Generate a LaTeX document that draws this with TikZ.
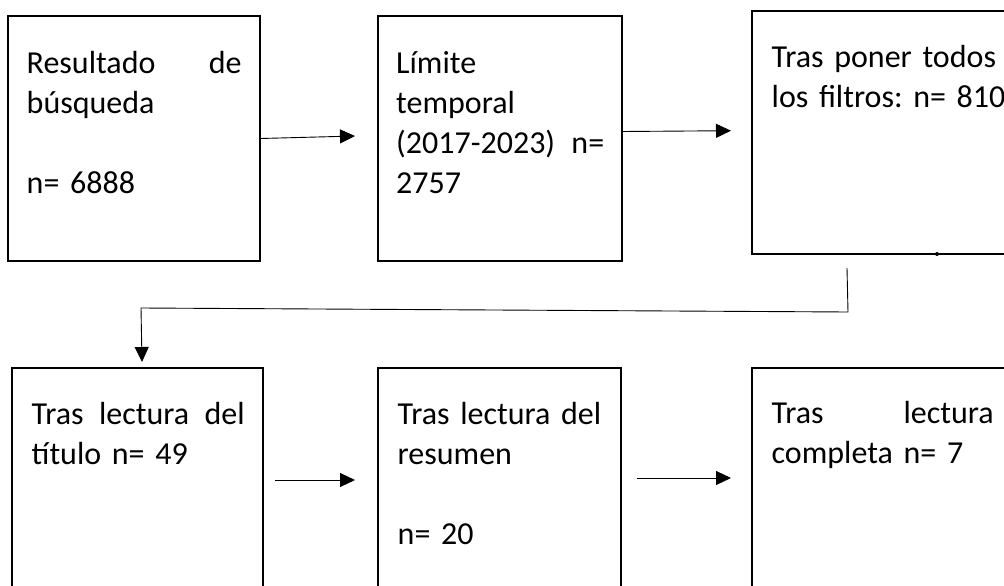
\documentclass[tikz,border=0pt]{standalone}
\usepackage{fontspec}
\setmainfont{Carlito}
\usetikzlibrary{arrows.meta}
\setlength{\parindent}{0pt}
\frenchspacing
\begin{document}
\begin{tikzpicture}[x=1pt,y=-1pt,
  box/.style={draw=black, line width=1.6pt, rectangle, inner sep=0pt},
  txt/.style={anchor=north west, inner sep=0pt, align=left, font=\fontsize{32}{40}\selectfont\frenchspacing},
  conn/.style={draw=black, line width=0.9pt},
  arr/.style={conn, -{Triangle[length=15pt,width=14pt]}}]
\clip (0,0) rectangle (1004,586);
\fill[white] (0,0) rectangle (1004,586);
% boxes
\node[box, minimum width=252pt, minimum height=245pt] (b1) at (134,138.5) {};
\node[box, minimum width=244pt, minimum height=245pt] (b2) at (500,138.5) {};
\node[box, minimum width=260pt, minimum height=243pt] (b3) at (882,132.5) {};
\node[box, minimum width=251pt, minimum height=242pt] (b4) at (137.5,489) {};
\node[box, minimum width=243pt, minimum height=242pt] (b5) at (499.5,489) {};
\node[box, minimum width=260pt, minimum height=242pt] (b6) at (882,489) {};
% texts
\node[txt, text width=215pt] (t1) at (26.5,45) {\strut Resultado\hfill de\\ búsqueda\\[40pt] n= 6888};
\node[txt, text width=208pt] (t2) at (396,45) {\strut Límite\\ temporal\\ (2017-2023)\hfill n=\\ 2757};
\node[txt, text width=240pt] (t3) at (771.5,39) {\strut Tras poner todos\\ los filtros: n= 810};
\node[txt, text width=213pt] (t4) at (31.5,396) {\strut Tras\hfill lectura\hfill del\\ título n= 49};
\node[txt, text width=215pt] (t5) at (397.5,396) {\strut Tras lectura del\\ resumen\\[40pt] n= 20};
\node[txt, text width=222pt] (t6) at (771.5,395) {\strut Tras\hfill lectura\\ completa n= 7};
% small dot on box 3
\fill (937,254) circle (2pt);
% connector coordinates
\coordinate (a1e) at (355,136);
\coordinate (a2e) at (731,130.7);
\coordinate (k1) at (847,268);
\coordinate (k2) at (848,312);
\coordinate (k3) at (141,308);
\coordinate (k4) at (142,362);
\coordinate (a3s) at (275,480);
\coordinate (a3e) at (355,480);
\coordinate (a4s) at (637,478);
\coordinate (a4e) at (731,478);
% connectors
\draw[arr] (b1.east) -- (a1e);
\draw[arr] ([yshift=7pt]b2.east) -- (a2e);
\draw[arr] (k1) -- (k2) -- (k3) -- (k4);
\draw[arr] (a3s) -- (a3e);
\draw[arr] (a4s) -- (a4e);
\end{tikzpicture}
\end{document}
